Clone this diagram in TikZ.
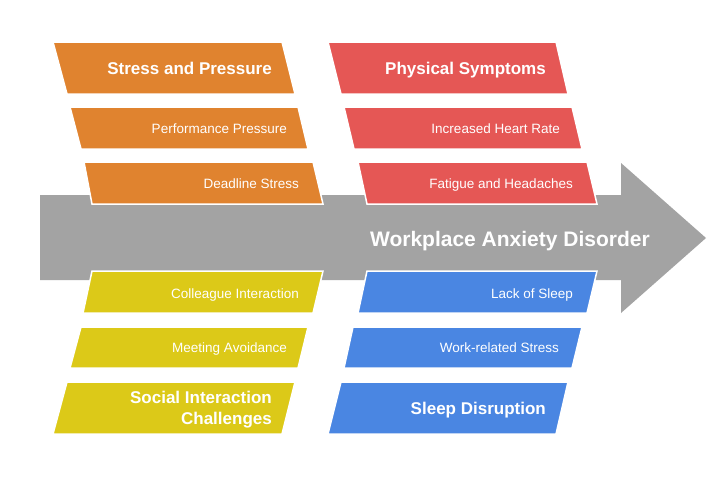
\documentclass[tikz,border=0pt]{standalone}
\usepackage{fontspec}
\setmainfont{Liberation Sans}
\begin{document}
\begin{tikzpicture}[x=1pt,y=-1pt]
\definecolor{corange}{HTML}{E0832F}
\definecolor{cred}{HTML}{E55755}
\definecolor{cyellow}{HTML}{DCC918}
\definecolor{cblue}{HTML}{4A86E2}
\definecolor{cgray}{HTML}{A3A3A3}
\tikzset{
  boxshape/.style={draw=white, line width=1.5pt, line join=miter},
  small/.style={text=white, inner sep=0pt, font=\fontsize{13.5}{16}\selectfont, anchor=base east},
  head/.style={text=white, inner sep=0pt, font=\bfseries\fontsize{17}{21}\selectfont, anchor=base east},
  title/.style={text=white, inner sep=0pt, font=\bfseries\fontsize{21}{25}\selectfont, anchor=base east}
}
\useasboundingbox (0,0) rectangle (720,480);
\fill[white] (0,0) rectangle (720,480);
% main arrow
\fill[cgray] (40,195) -- (621,195) -- (621,163) -- (706,238) -- (621,313) -- (621,280) -- (40,280) -- cycle;
% orange group
\fill[corange, boxshape] (53,42) -- (282,42) -- (295,94) -- (67,94) -- cycle;
\fill[corange, boxshape] (70,107) -- (298,107) -- (308,149) -- (81,149) -- cycle;
\fill[corange, boxshape] (84,162) -- (313,162) -- (323,204) -- (92,204) -- cycle;
% red group
\fill[cred, boxshape] (328,42) -- (556,42) -- (568,94) -- (341,94) -- cycle;
\fill[cred, boxshape] (344,107) -- (572,107) -- (582,149) -- (354,149) -- cycle;
\fill[cred, boxshape] (358,162) -- (587,162) -- (597,204) -- (367,204) -- cycle;
% yellow group
\fill[cyellow, boxshape] (92,271) -- (323,271) -- (313,313) -- (83,313) -- cycle;
\fill[cyellow, boxshape] (81,327) -- (308,327) -- (298,368) -- (70,368) -- cycle;
\fill[cyellow, boxshape] (67,382) -- (295,382) -- (282,434) -- (53,434) -- cycle;
% blue group
\fill[cblue, boxshape] (367,271) -- (597,271) -- (587,313) -- (358,313) -- cycle;
\fill[cblue, boxshape] (353,327) -- (582,327) -- (572,368) -- (344,368) -- cycle;
\fill[cblue, boxshape] (341,382) -- (568,382) -- (556,434) -- (328,434) -- cycle;
% texts
\node[head] (sp) at (272,74.5) {Stress and Pressure};
\node[small] (pp) at (287,133.5) {Performance Pressure};
\node[small] (ds) at (299,188.5) {Deadline Stress};
\node[head] (ps) at (546,74.5) {Physical Symptoms};
\node[small] (hr) at (560,133.5) {Increased Heart Rate};
\node[small] (fh) at (573,188.5) {Fatigue and Headaches};
\node[title] (wad) at (650,246) {Workplace Anxiety Disorder};
\node[small] (ci) at (299,298) {Colleague Interaction};
\node[small] (ma) at (287,352.5) {Meeting Avoidance};
\node[head] (sic1) at (272,403) {Social Interaction};
\node[head] (sic2) at (272,424) {Challenges};
\node[small] (ls) at (573,298) {Lack of Sleep};
\node[small] (wr) at (559,352.5) {Work-related Stress};
\node[head] (sd) at (546,414) {Sleep Disruption};
\end{tikzpicture}
\end{document}
